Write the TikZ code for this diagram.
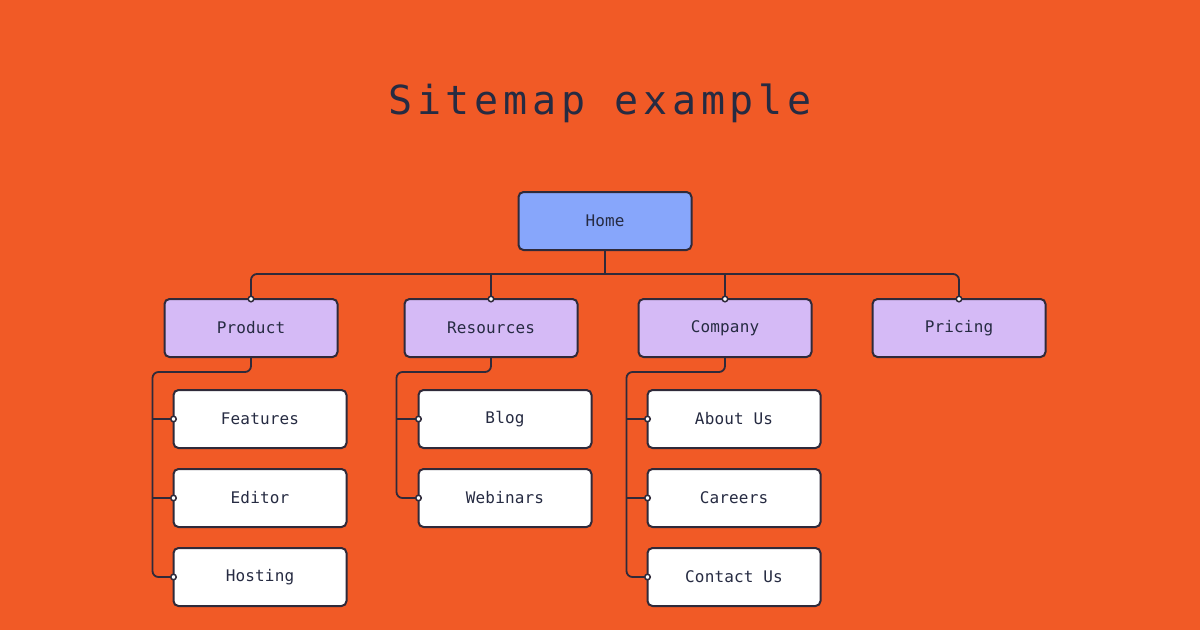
\documentclass[tikz,border=0pt]{standalone}
\usepackage{fontspec}
\usetikzlibrary{arrows.meta, positioning}
\newfontfamily\titlefont[LetterSpace=12]{DejaVu Sans Mono}
\newfontfamily\boxfont[LetterSpace=1]{DejaVu Sans Mono}
\definecolor{bgorange}{HTML}{F15A26}
\definecolor{homeblue}{HTML}{87A6FB}
\definecolor{seclilac}{HTML}{D5BAF6}
\definecolor{inkdark}{HTML}{262B42}
\definecolor{edgedark}{HTML}{2F2A3A}

\begin{document}
\begin{tikzpicture}[
  x=1pt, y=1pt, font=\boxfont\fontsize{16}{18}\selectfont, node distance=21pt,
  card/.style={draw=edgedark, line width=2pt, rounded corners=5pt, text=inkdark,
               minimum width=173pt, minimum height=58pt, inner sep=0pt, outer sep=0pt},
  homebox/.style={card, fill=homeblue},
  secbox/.style={card, fill=seclilac},
  pagebox/.style={card, fill=white},
  link/.style={draw=edgedark, line width=1.8pt, rounded corners=6pt},
  dotted end/.style={-{Circle[fill=white, length=7pt, line width=1.5pt]}, shorten >=-3.5pt}]
\fill[bgorange] (0,0) rectangle (1200,-630);
\useasboundingbox (0,0) rectangle (1200,-630);
\node[text=inkdark, font=\titlefont\fontsize{40}{44}\selectfont] (title) at (600,-103) {Sitemap example};
\node[homebox] (home) at (605,-221) {Home};
\node[secbox] (product) at (251,-328) {Product};
\node[secbox, right=67pt of product] (resources) {Resources};
\node[secbox, right=61pt of resources] (company) {Company};
\node[secbox, right=61pt of company] (pricing) {Pricing};
\node[pagebox, below=33pt of product, xshift=9pt] (features) {Features};
\node[pagebox, below=of features] (editor) {Editor};
\node[pagebox, below=of editor] (hosting) {Hosting};
\node[pagebox, below=33pt of resources, xshift=14pt] (blog) {Blog};
\node[pagebox, below=of blog] (webinars) {Webinars};
\node[pagebox, below=33pt of company, xshift=9pt] (about) {About Us};
\node[pagebox, below=of about] (careers) {Careers};
\node[pagebox, below=of careers] (contact) {Contact Us};
% top level bus
\coordinate (hub) at ([yshift=-24pt]home.south);
\draw[link] (home.south) -- (hub);
\draw[link, {Circle[fill=white, length=7pt, line width=1.5pt]}-{Circle[fill=white, length=7pt, line width=1.5pt]},
      shorten <=-3.5pt, shorten >=-3.5pt] (product.north) |- (hub) -| (pricing.north);
\draw[link, dotted end] (resources.north |- hub) -- (resources.north);
\draw[link, dotted end] (company.north |- hub) -- (company.north);
% product pages
\coordinate (prodbend) at ([xshift=-21pt, yshift=18pt]features.north west);
\draw[link, dotted end] (product.south) |- (prodbend) |- (hosting.west);
\draw[link, dotted end] (prodbend |- features.west) -- (features.west);
\draw[link, dotted end] (prodbend |- editor.west) -- (editor.west);
% resources pages
\coordinate (resbend) at ([xshift=-22pt, yshift=18pt]blog.north west);
\draw[link, dotted end] (resources.south) |- (resbend) |- (webinars.west);
\draw[link, dotted end] (resbend |- blog.west) -- (blog.west);
% company pages
\coordinate (compbend) at ([xshift=-21pt, yshift=18pt]about.north west);
\draw[link, dotted end] (company.south) |- (compbend) |- (contact.west);
\draw[link, dotted end] (compbend |- about.west) -- (about.west);
\draw[link, dotted end] (compbend |- careers.west) -- (careers.west);
\end{tikzpicture}
\end{document}
